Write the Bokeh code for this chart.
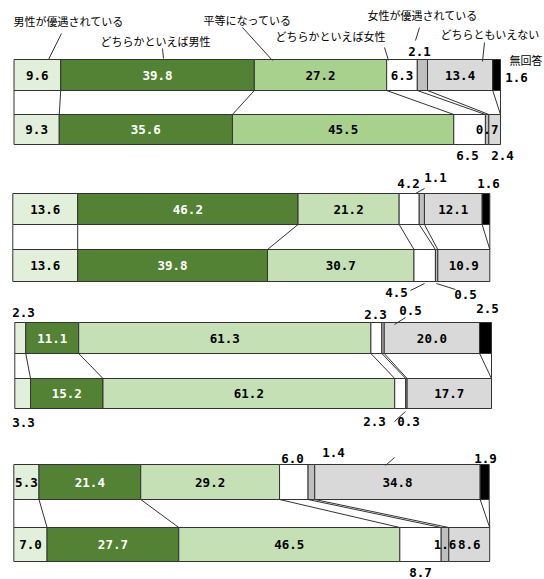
from bokeh.plotting import figure
from bokeh.models import Range1d, ColumnDataSource
from bokeh.core.properties import value
from bokeh.embed import file_html
from bokeh.resources import INLINE

# ---------------- data ----------------
categories = ["男性が優遇されている", "どちらかといえば男性", "平等になっている",
              "どちらかといえば女性", "女性が優遇されている", "どちらともいえない", "無回答"]

g1_a = [9.6, 39.8, 27.2, 6.3, 2.1, 13.4, 1.6]
g1_b = [9.3, 35.6, 45.5, 6.5, 0.7, 2.4, 0.0]
g2_a = [13.6, 46.2, 21.2, 4.2, 1.1, 12.1, 1.6]
g2_b = [13.6, 39.8, 30.7, 4.5, 0.5, 10.9, 0.0]
g3_a = [2.3, 11.1, 61.3, 2.3, 0.5, 20.0, 2.5]
g3_b = [3.3, 15.2, 61.2, 2.3, 0.3, 17.7, 0.0]
g4_a = [5.3, 21.4, 29.2, 6.0, 1.4, 34.8, 1.9]
g4_b = [7.0, 27.7, 46.5, 8.7, 1.6, 8.6, 0.0]

groups = [(g1_a, g1_b), (g2_a, g2_b), (g3_a, g3_b), (g4_a, g4_b)]

# ---------------- styles / layout ----------------
W, H = 544, 579
X0, Y0 = 0, 0  # page offset of the figure
colors_g1 = ["#e2efda", "#548235", "#a9d18e", "#ffffff", "#bfbfbf", "#d9d9d9", "#000000"]
colors_gx = ["#e2efda", "#548235", "#c5e0b4", "#ffffff", "#bfbfbf", "#d9d9d9", "#000000"]
text_colors = ["black", "white", "black", "black", "black", "black", "black"]
group_x = [(13.5, 500.0), (12.3, 489.3), (14.3, 491.0), (13.3, 488.7)]  # page px of 0% / 100%
row_y = [((59, 90), (114, 144)), ((193, 224), (249, 281)),
         ((322, 353), (378, 408)), ((464, 499), (527, 561))]

# labels not placed inside their segment: (group, row, segment) -> page position
outside = {
    (0, 0, 4): (419, 51), (0, 0, 6): (516, 77),
    (0, 1, 3): (467, 155), (0, 1, 5): (502, 155),
    (1, 0, 3): (408, 183), (1, 0, 4): (435, 177), (1, 0, 6): (488, 183),
    (1, 1, 3): (396, 292), (1, 1, 4): (465, 294),
    (2, 0, 0): (23, 312), (2, 0, 3): (375, 314), (2, 0, 4): (410, 310), (2, 0, 6): (487, 308),
    (2, 1, 0): (23, 422), (2, 1, 3): (374, 421), (2, 1, 4): (408, 421),
    (3, 0, 3): (292, 458), (3, 0, 4): (333, 452), (3, 0, 6): (485, 458),
    (3, 1, 3): (420, 572),
}

cat_labels = [  # (category index, x, y)
    (0, 13, 20), (1, 100, 40), (2, 203, 19),
    (3, 275, 35), (4, 367, 14), (5, 440, 33), (6, 509, 59),
]
leaders = [
    (61, 33, 48, 59), (162, 48, 163, 58), (242, 27, 272, 60), (384, 47, 388, 60),
    (419, 27, 415, 40), (484, 42, 482, 61),
    (415, 193, 424, 188), (410, 290, 424, 283), (436, 283, 455, 289),
    (394, 324, 405, 317), (394, 421, 405, 411),
    (385, 465, 394, 457),
]

NUM_FONT = value("DejaVu Sans Mono")
JP_FONT = value("Noto Sans CJK JP")
NUM_SIZE = "12.5px"

p = figure(width=W, height=H, x_range=Range1d(X0, X0 + W), y_range=Range1d(Y0 + H, Y0),
           output_backend="svg", toolbar_location=None,
           x_axis_location=None, y_axis_location=None, min_border=0)
p.xgrid.visible = False
p.ygrid.visible = False
p.outline_line_color = None
p.background_fill_color = "white"

extra = {}
for gi, (L, R) in enumerate(group_x):
    s = (R - L) / 100.0
    extra["g%d" % gi] = Range1d((X0 - L) / s, (X0 + W - L) / s)
p.extra_x_ranges = extra

out_x, out_y, out_t = [], [], []
for gi, (ra, rb) in enumerate(groups):
    rn = "g%d" % gi
    cols = colors_g1 if gi == 0 else colors_gx
    cums = []
    for ri, vals in enumerate((ra, rb)):
        top, bot = row_y[gi][ri]
        lefts, rights, fills, tx, tt, tc = [], [], [], [], [], []
        c = 0.0
        cum = [0.0]
        for si, v in enumerate(vals):
            l, r = c, c + v
            c = r
            cum.append(c)
            if v <= 0:
                continue
            lefts.append(l); rights.append(r); fills.append(cols[si])
            lab = "%.1f" % v
            if (gi, ri, si) in outside:
                ox, oy = outside[(gi, ri, si)]
                out_x.append(ox); out_y.append(oy); out_t.append(lab)
            else:
                tx.append((l + r) / 2); tt.append(lab); tc.append(text_colors[si])
        cums.append(cum)
        src = ColumnDataSource(dict(left=lefts, right=rights, fill=fills))
        p.quad(left="left", right="right", top=top, bottom=bot, fill_color="fill",
               line_color="#333333", line_width=1, source=src, x_range_name=rn)
        tsrc = ColumnDataSource(dict(x=tx, t=tt, c=tc))
        p.text(x="x", y=(top + bot) / 2, text="t", text_color="c", source=tsrc,
               text_font=NUM_FONT, text_font_style="bold", text_font_size=NUM_SIZE,
               text_align="center", text_baseline="middle", x_range_name=rn)
    # connectors between the two rows
    ca, cb = cums
    a_bot = row_y[gi][0][1]
    b_top = row_y[gi][1][0]
    p.segment(x0=ca, y0=[a_bot] * len(ca), x1=cb, y1=[b_top] * len(cb),
              line_color="#333333", line_width=1, x_range_name=rn)

p.text(x=out_x, y=out_y, text=out_t, text_color="black", text_font=NUM_FONT,
       text_font_style="bold", text_font_size=NUM_SIZE, text_align="center",
       text_baseline="middle")

p.text(x=[c[1] for c in cat_labels], y=[c[2] for c in cat_labels],
       text=[categories[c[0]] for c in cat_labels], text_color="black",
       text_font=JP_FONT, text_font_size="11px", text_align="left", text_baseline="middle")

p.segment(x0=[l[0] for l in leaders], y0=[l[1] for l in leaders],
          x1=[l[2] for l in leaders], y1=[l[3] for l in leaders],
          line_color="#333333", line_width=1)

open("out.html", "w").write(file_html(p, INLINE))
